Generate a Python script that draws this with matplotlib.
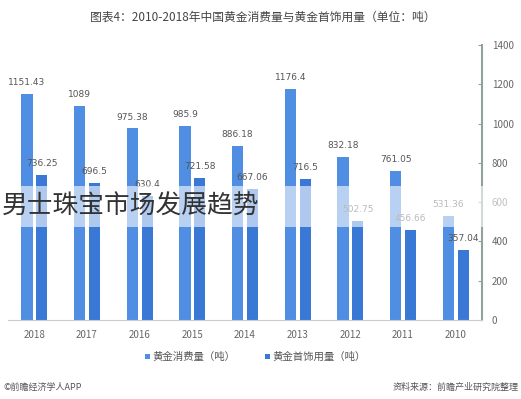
import matplotlib.pyplot as plt
from matplotlib.patches import Rectangle

plt.rcParams['font.family'] = ['Noto Sans CJK SC', 'DejaVu Sans']

years = ['2018', '2017', '2016', '2015', '2014', '2013', '2012', '2011', '2010']
consumption = [1151.43, 1089, 975.38, 985.9, 886.18, 1176.4, 832.18, 761.05, 531.36]
jewelry = [736.25, 696.5, 630.4, 721.58, 667.06, 716.5, 502.75, 456.66, 357.04]
yticks = [0, 200, 400, 600, 800, 1000, 1200, 1400]

c_cons = '#4f8ee2'
c_jew = '#3a78d6'

fig = plt.figure(figsize=(5.21, 3.99), dpi=100)
ax = fig.add_axes([0.0154, 0.198, 0.9098, 0.689])

x = list(range(len(years)))
w = 0.21
ax.bar([i - 0.14 for i in x], consumption, w, color=c_cons, zorder=2)
ax.bar([i + 0.14 for i in x], jewelry, w, color=c_jew, zorder=2)

for i in x:
    ax.annotate(f'{consumption[i]:g}', (i - 0.14, consumption[i]), xytext=(0, 5),
                textcoords='offset points', ha='center', va='bottom',
                fontsize=6.5, color='#555555', family='DejaVu Sans')
    ax.annotate(f'{jewelry[i]:g}', (i + 0.14, jewelry[i]), xytext=(0, 5),
                textcoords='offset points', ha='center', va='bottom',
                fontsize=6.5, color='#555555', family='DejaVu Sans')

ax.set_xlim(-0.5, 8.5)
ax.set_ylim(0, 1400)
ax.set_xticks(x)
ax.set_xticklabels(years, fontsize=7, color='#666666')
ax.tick_params(axis='x', length=0, pad=7)
ax.yaxis.tick_right()
ax.set_yticks(yticks)
ax.set_yticklabels([str(v) for v in yticks], fontsize=7, color='#666666')
ax.tick_params(axis='y', direction='in', length=3, color='#8fa39c', pad=7)
for s in ['top', 'left']:
    ax.spines[s].set_visible(False)
ax.spines['right'].set_color('#8fa39c')
ax.spines['right'].set_linewidth(1.5)
ax.spines['bottom'].set_color('#cccccc')

fig.text(0.505, 0.957, '图表4：2010-2018年中国黄金消费量与黄金首饰用量（单位：吨）',
         ha='center', va='center', fontsize=8.5, color='#444444')

# legend
fig.patches.append(Rectangle((0.278, 0.100), 0.010, 0.013, transform=fig.transFigure,
                             facecolor=c_cons, edgecolor='none'))
fig.text(0.293, 0.106, '黄金消费量（吨）', ha='left', va='center', fontsize=7.5, color='#555555')
fig.patches.append(Rectangle((0.508, 0.100), 0.010, 0.013, transform=fig.transFigure,
                             facecolor=c_jew, edgecolor='none'))
fig.text(0.523, 0.106, '黄金首饰用量（吨）', ha='left', va='center', fontsize=7.5, color='#555555')

fig.text(0.006, 0.03, '©前瞻经济学人APP', ha='left', va='center', fontsize=6.5, color='#555555')
fig.text(0.995, 0.03, '资料来源：前瞻产业研究院整理', ha='right', va='center', fontsize=6.5, color='#555555')

# overlay band
fig.patches.append(Rectangle((0, 1 - 227 / 399), 1, 41 / 399, transform=fig.transFigure,
                             facecolor='white', alpha=0.6, edgecolor='none', zorder=5))
fig.text(0.003, 1 - 207 / 399, '男士珠宝市场发展趋势', ha='left', va='center',
         fontsize=18.5, color='#333333', zorder=6)

fig.savefig('out.png', dpi=100)
